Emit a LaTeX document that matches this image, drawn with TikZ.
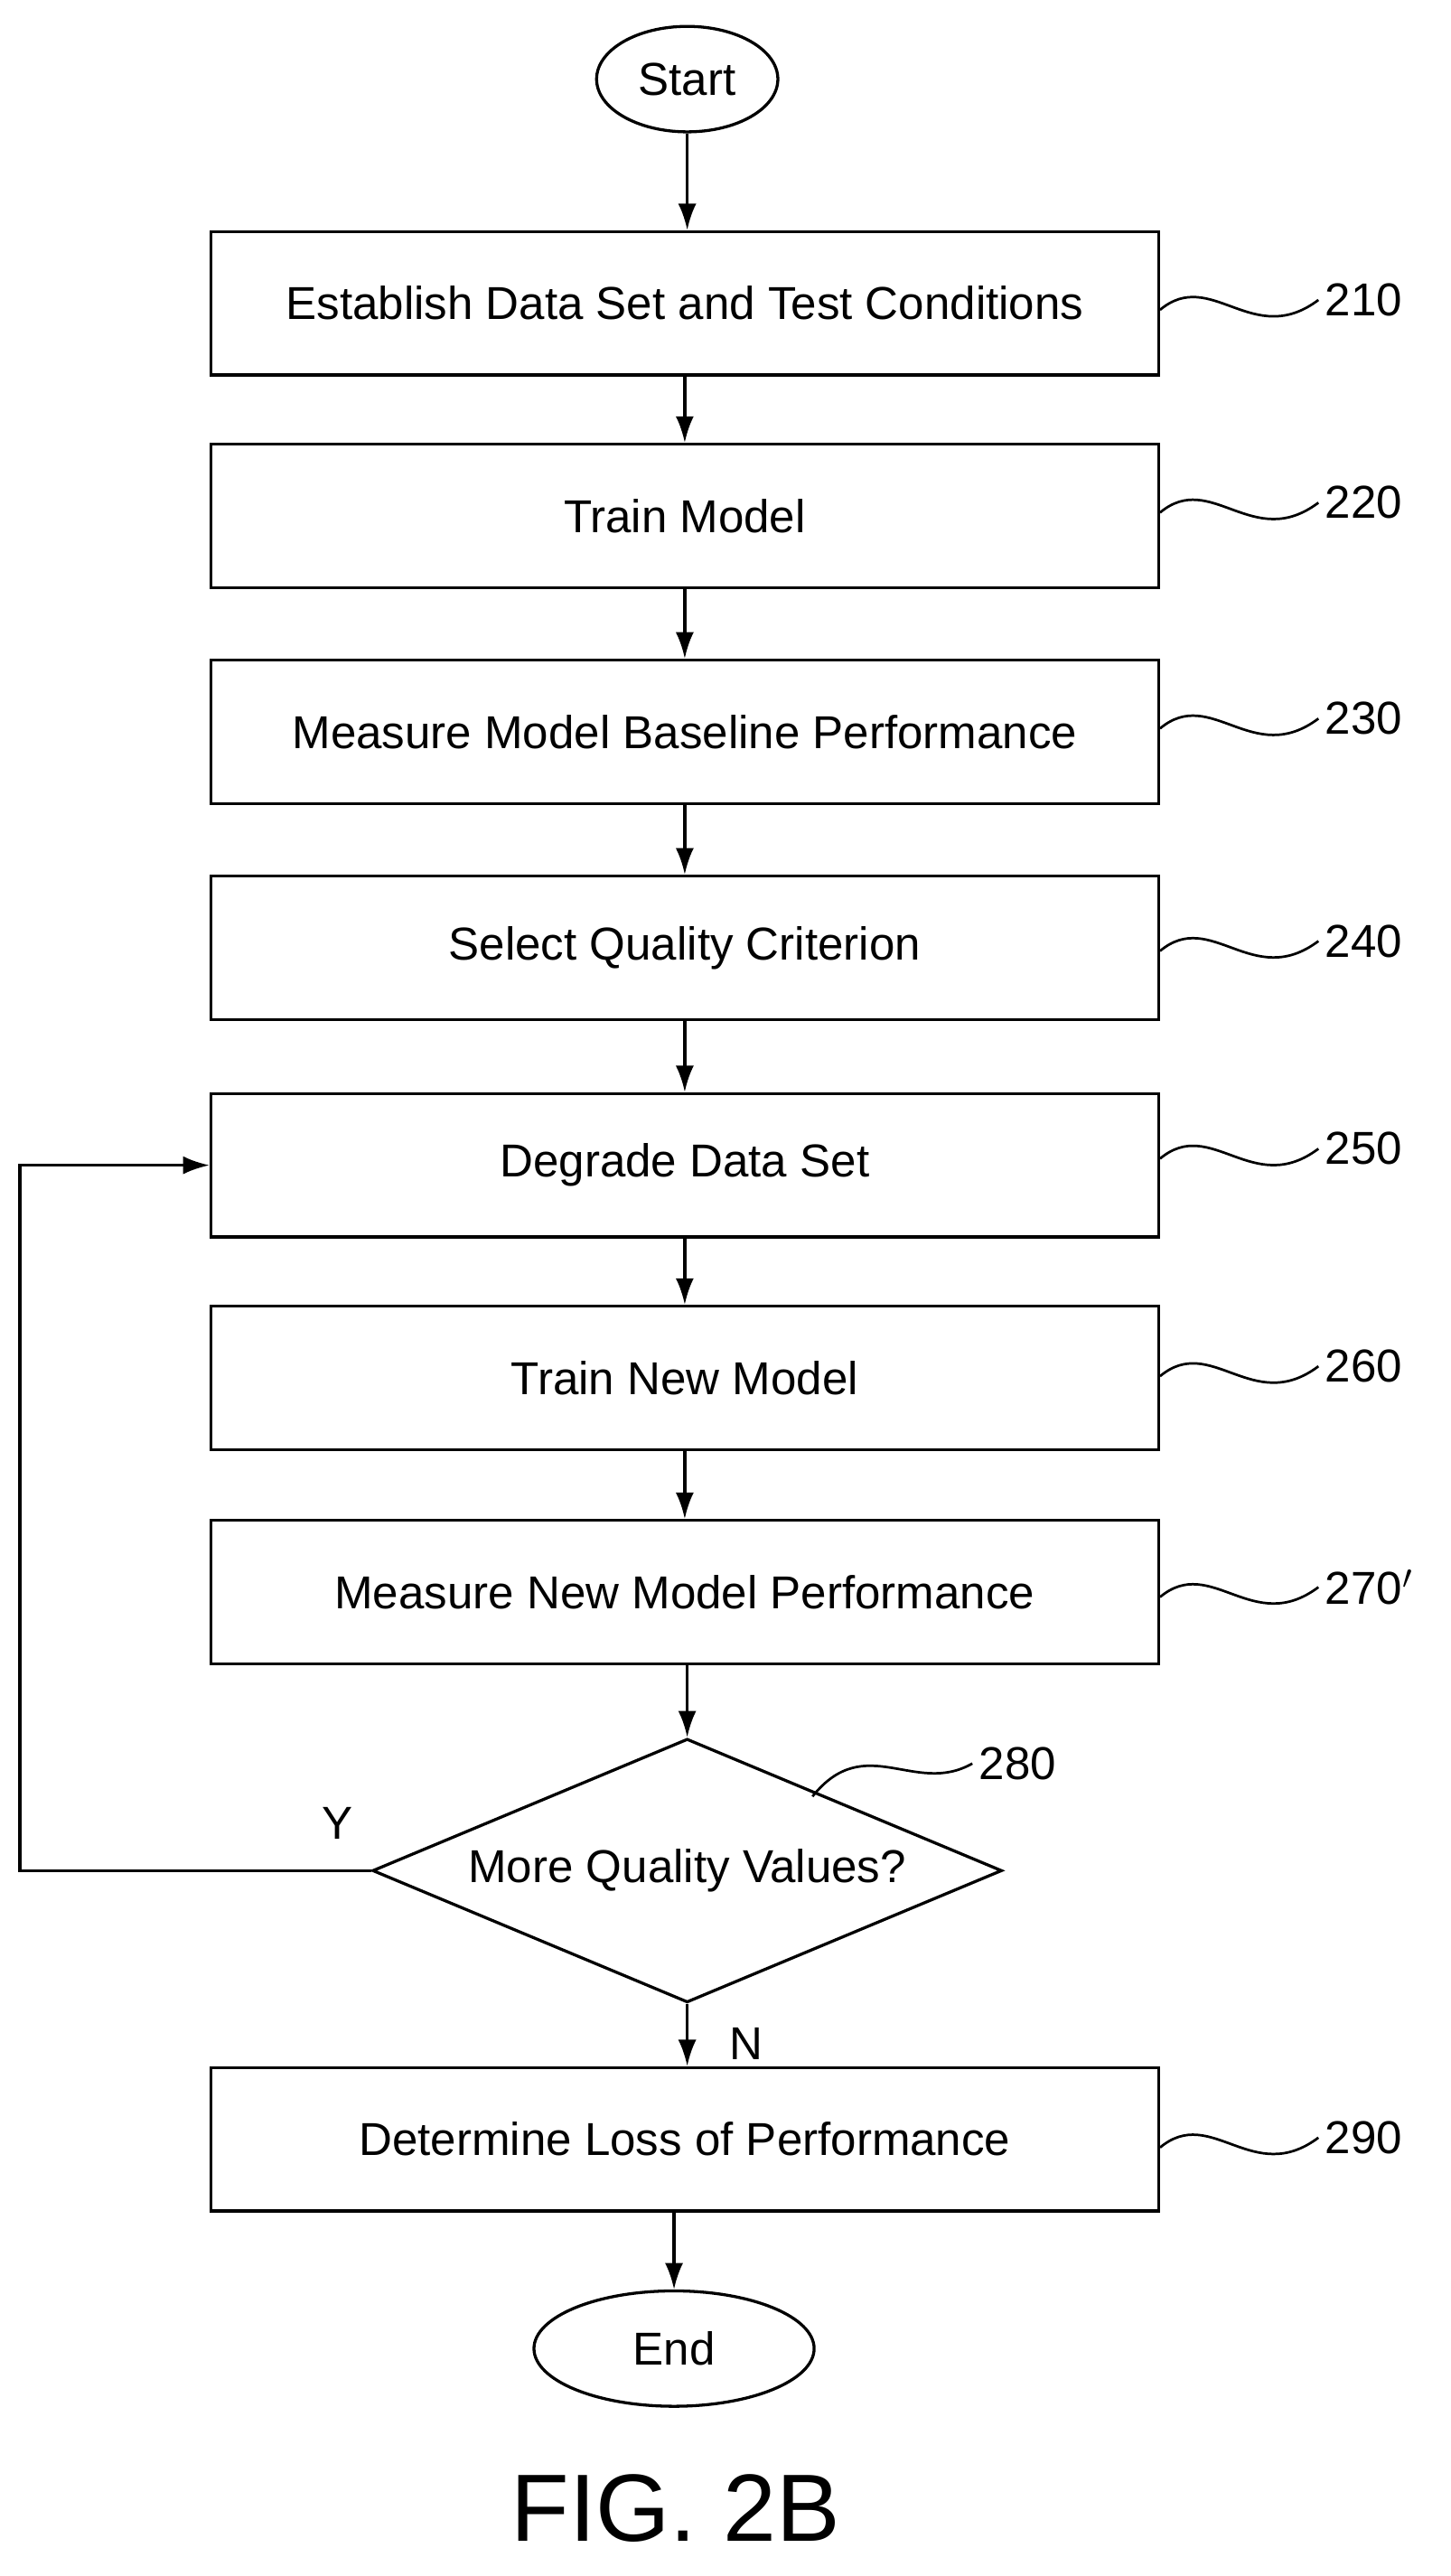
\documentclass[tikz,border=0pt]{standalone}
\usepackage{fontspec}
\setmainfont{Liberation Sans}
\usetikzlibrary{shapes.geometric,arrows.meta}
\begin{document}
\begin{tikzpicture}[x=1pt,y=-1pt,line width=1.8pt,
  box/.style={draw,minimum width=575pt,minimum height=87pt,font=\fontsize{28}{30}\selectfont},
  oval/.style={draw,ellipse,font=\fontsize{28}{30}\selectfont},
  arr/.style={-{Latex[length=16pt,width=11pt]}},
  lbl/.style={font=\fontsize{28}{30}\selectfont,anchor=west}]
\useasboundingbox (0,0) rectangle (880,1563);
\node[oval,minimum width=110pt,minimum height=64pt] (s) at (417,48) {Start};
\node[box] (b1) at (415.5,184) {Establish\ Data\ Set\ and\ Test\ Conditions};
\node[box] (b2) at (415.5,313) {Train\ Model};
\node[box] (b3) at (415.5,444) {Measure\ Model\ Baseline\ Performance};
\node[box] (b4) at (415.5,575) {Select\ Quality\ Criterion};
\node[box] (b5) at (415.5,707) {Degrade\ Data\ Set};
\node[box] (b6) at (415.5,836) {Train\ New\ Model};
\node[box] (b7) at (415.5,966) {Measure\ New\ Model\ Performance};
\node[draw,diamond,minimum width=382pt,minimum height=160pt,aspect=2.4,inner sep=0pt,font=\fontsize{28}{30}\selectfont] (d) at (417,1135) {};
\node[font=\fontsize{28}{30}\selectfont] at (417,1135) {More\ Quality\ Values?};
\node[box] (b9) at (415.5,1298) {Determine\ Loss\ of\ Performance};
\node[oval,minimum width=170pt,minimum height=70pt] (e) at (409,1425) {End};
\draw[arr] (s) -- (s|-b1.north);
\draw[arr] (b1) -- (b2);
\draw[arr] (b2) -- (b3);
\draw[arr] (b3) -- (b4);
\draw[arr] (b4) -- (b5);
\draw[arr] (b5) -- (b6);
\draw[arr] (b6) -- (b7);
\draw[arr] (b7.south-|d.north) -- (d.north);
\draw[arr] (d.south) -- (d.south|-b9.north);
\draw[arr] (b9.south-|e.north) -- (e.north);
\coordinate (c1) at (12,1135);
\coordinate (c2) at (12,707);
\draw[arr] (d.west) -- (c1) -- (c2) -- (b5.west);
\node[font=\fontsize{28}{30}\selectfont] (y) at (205,1106) {Y};
\node[font=\fontsize{28}{30}\selectfont] (n) at (453,1240) {N};
\foreach \b/\t/\yy in {b1/210/182,b2/220/305,b3/230/436,b4/240/571,b5/250/697,b6/260/829,b7/270$'$/963,b9/290/1297}{
  \node[lbl] (l\b) at (800,\yy) {\t};
  \draw[line width=1.5pt] (\b.east|-0,\yy+6) .. controls (735,\yy-20) and (760,\yy+30) .. (l\b.west);
}
\node[lbl] (l8) at (590,1070) {280};
\coordinate (dp) at (493,1090);
\draw[line width=1.5pt] (dp) .. controls (525,1050) and (555,1090) .. (l8.west);
\node[font=\fontsize{58}{60}\selectfont] (fig) at (410,1522) {FIG. 2B};
\end{tikzpicture}
\end{document}
